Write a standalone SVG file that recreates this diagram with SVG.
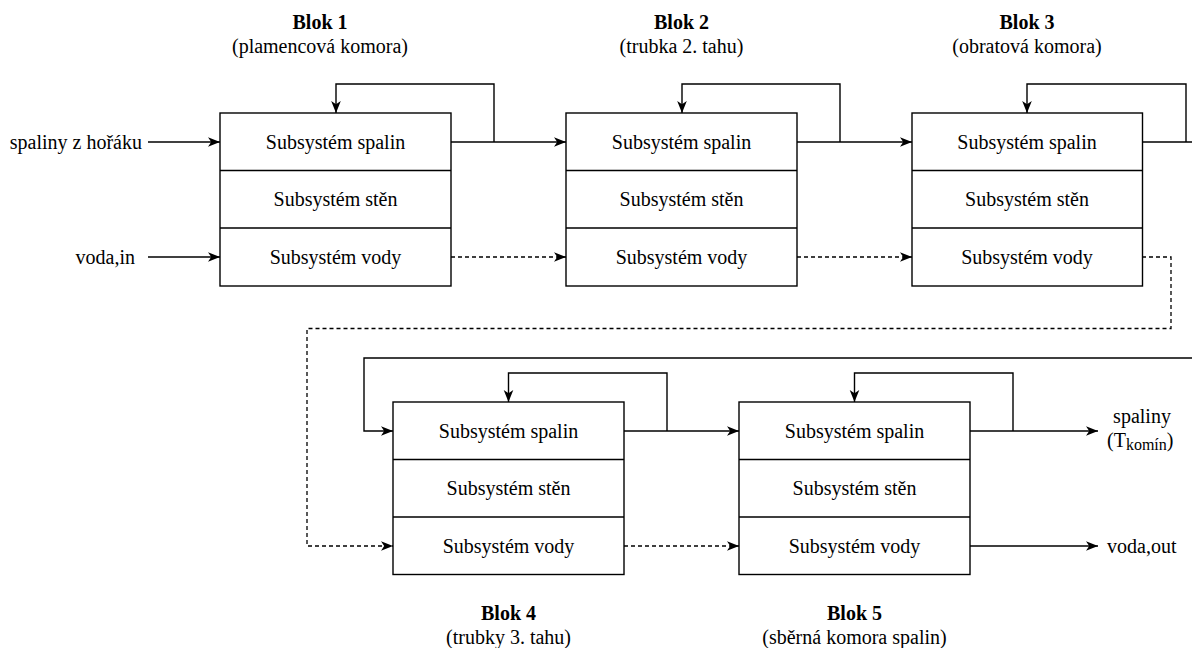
<svg xmlns="http://www.w3.org/2000/svg" width="1192" height="648" viewBox="0 0 1192 648">
  <defs>
    <marker id="arr" markerUnits="userSpaceOnUse" markerWidth="13" markerHeight="12" refX="12" refY="6" orient="auto" overflow="visible">
      <path d="M0,1.2 L12,6 L0,10.8 L3.2,6 Z" fill="#000"/>
    </marker>
    <style>
      .box { fill: #fff; stroke: #000; stroke-width: 1.4; }
      .div { stroke: #000; stroke-width: 1.4; fill: none; }
      .ln { stroke: #000; stroke-width: 1.4; fill: none; }
      .dash { stroke: #000; stroke-width: 1.3; fill: none; stroke-dasharray: 4 3; }
      .c { text-anchor: middle; }
      .b { font-weight: bold; }
    </style>
  </defs>
  <rect width="1192" height="648" fill="#fff"/>

  <g id="connectors">
    <path class="ln" d="M148,142 L220,142" marker-end="url(#arr)"/>
    <path class="ln" d="M148,257 L220,257" marker-end="url(#arr)"/>
    <path class="ln" d="M451,142 L566,142" marker-end="url(#arr)"/>
    <path class="ln" d="M494,142 L494,84 L336,84 L336,113" marker-end="url(#arr)"/>
    <path class="ln" d="M797,142 L912,142" marker-end="url(#arr)"/>
    <path class="ln" d="M840,142 L840,84 L682,84 L682,113" marker-end="url(#arr)"/>
    <path class="ln" d="M1142,142 L1200,142 L1200,358 L364,358 L364,431 L393,431" marker-end="url(#arr)"/>
    <path class="ln" d="M1186,142 L1186,84 L1027,84 L1027,113" marker-end="url(#arr)"/>
    <path class="ln" d="M624,431 L739,431" marker-end="url(#arr)"/>
    <path class="ln" d="M667,431 L667,373 L508.5,373 L508.5,402" marker-end="url(#arr)"/>
    <path class="ln" d="M970,431 L1098,431" marker-end="url(#arr)"/>
    <path class="ln" d="M1013,431 L1013,373 L854.5,373 L854.5,402" marker-end="url(#arr)"/>
    <path class="dash" d="M451,257 L566,257" marker-end="url(#arr)"/>
    <path class="dash" d="M797,257 L912,257" marker-end="url(#arr)"/>
    <path class="dash" d="M1142,257 L1171,257 L1171,328.5 L307,328.5 L307,546 L393,546" marker-end="url(#arr)"/>
    <path class="dash" d="M624,546 L739,546" marker-end="url(#arr)"/>
    <path class="ln" d="M970,546 L1098,546" marker-end="url(#arr)"/>
  </g>

  <g font-family="'Liberation Serif', 'Times New Roman', Times, serif" font-size="20" fill="#000">
  <g id="inputs">
    <text x="142" y="148.5" text-anchor="end">spaliny z hořáku</text>
    <text x="135" y="263.5" text-anchor="end">voda,in</text>
  </g>

  <g id="blok1">
    <text class="c b" x="320" y="29">Blok 1</text>
    <text class="c" x="320" y="53">(plamencová komora)</text>
    <rect class="box" x="220" y="113" width="231" height="173"/>
    <path class="div" d="M220,170.5 L451,170.5 M220,228 L451,228"/>
    <text class="c" x="335.5" y="148.5">Subsystém spalin</text>
    <text class="c" x="335.5" y="206">Subsystém stěn</text>
    <text class="c" x="335.5" y="263.5">Subsystém vody</text>
  </g>

  <g id="blok2">
    <text class="c b" x="681.5" y="29">Blok 2</text>
    <text class="c" x="681.5" y="53">(trubka 2. tahu)</text>
    <rect class="box" x="566" y="113" width="231" height="173"/>
    <path class="div" d="M566,170.5 L797,170.5 M566,228 L797,228"/>
    <text class="c" x="681.5" y="148.5">Subsystém spalin</text>
    <text class="c" x="681.5" y="206">Subsystém stěn</text>
    <text class="c" x="681.5" y="263.5">Subsystém vody</text>
  </g>

  <g id="blok3">
    <text class="c b" x="1027" y="29">Blok 3</text>
    <text class="c" x="1027" y="53">(obratová komora)</text>
    <rect class="box" x="912" y="113" width="230.5" height="173"/>
    <path class="div" d="M912,170.5 L1142.5,170.5 M912,228 L1142.5,228"/>
    <text class="c" x="1027" y="148.5">Subsystém spalin</text>
    <text class="c" x="1027" y="206">Subsystém stěn</text>
    <text class="c" x="1027" y="263.5">Subsystém vody</text>
  </g>

  <g id="blok4">
    <rect class="box" x="393" y="402" width="231" height="172.5"/>
    <path class="div" d="M393,459.5 L624,459.5 M393,517 L624,517"/>
    <text class="c" x="508.5" y="437.5">Subsystém spalin</text>
    <text class="c" x="508.5" y="495">Subsystém stěn</text>
    <text class="c" x="508.5" y="552.5">Subsystém vody</text>
    <text class="c b" x="508.5" y="620">Blok 4</text>
    <text class="c" x="508.5" y="644">(trubky 3. tahu)</text>
  </g>

  <g id="blok5">
    <rect class="box" x="739" y="402" width="231" height="172.5"/>
    <path class="div" d="M739,459.5 L970,459.5 M739,517 L970,517"/>
    <text class="c" x="854.5" y="437.5">Subsystém spalin</text>
    <text class="c" x="854.5" y="495">Subsystém stěn</text>
    <text class="c" x="854.5" y="552.5">Subsystém vody</text>
    <text class="c b" x="854.5" y="620">Blok 5</text>
    <text class="c" x="854.5" y="644">(sběrná komora spalin)</text>
  </g>

  <g id="outputs">
    <text class="c" x="1142" y="423">spaliny</text>
    <text x="1107" y="447">(T<tspan font-size="16" dy="3">komín</tspan><tspan dy="-3">)</tspan></text>
    <text x="1107" y="552.5">voda,out</text>
  </g>
  </g>
</svg>
